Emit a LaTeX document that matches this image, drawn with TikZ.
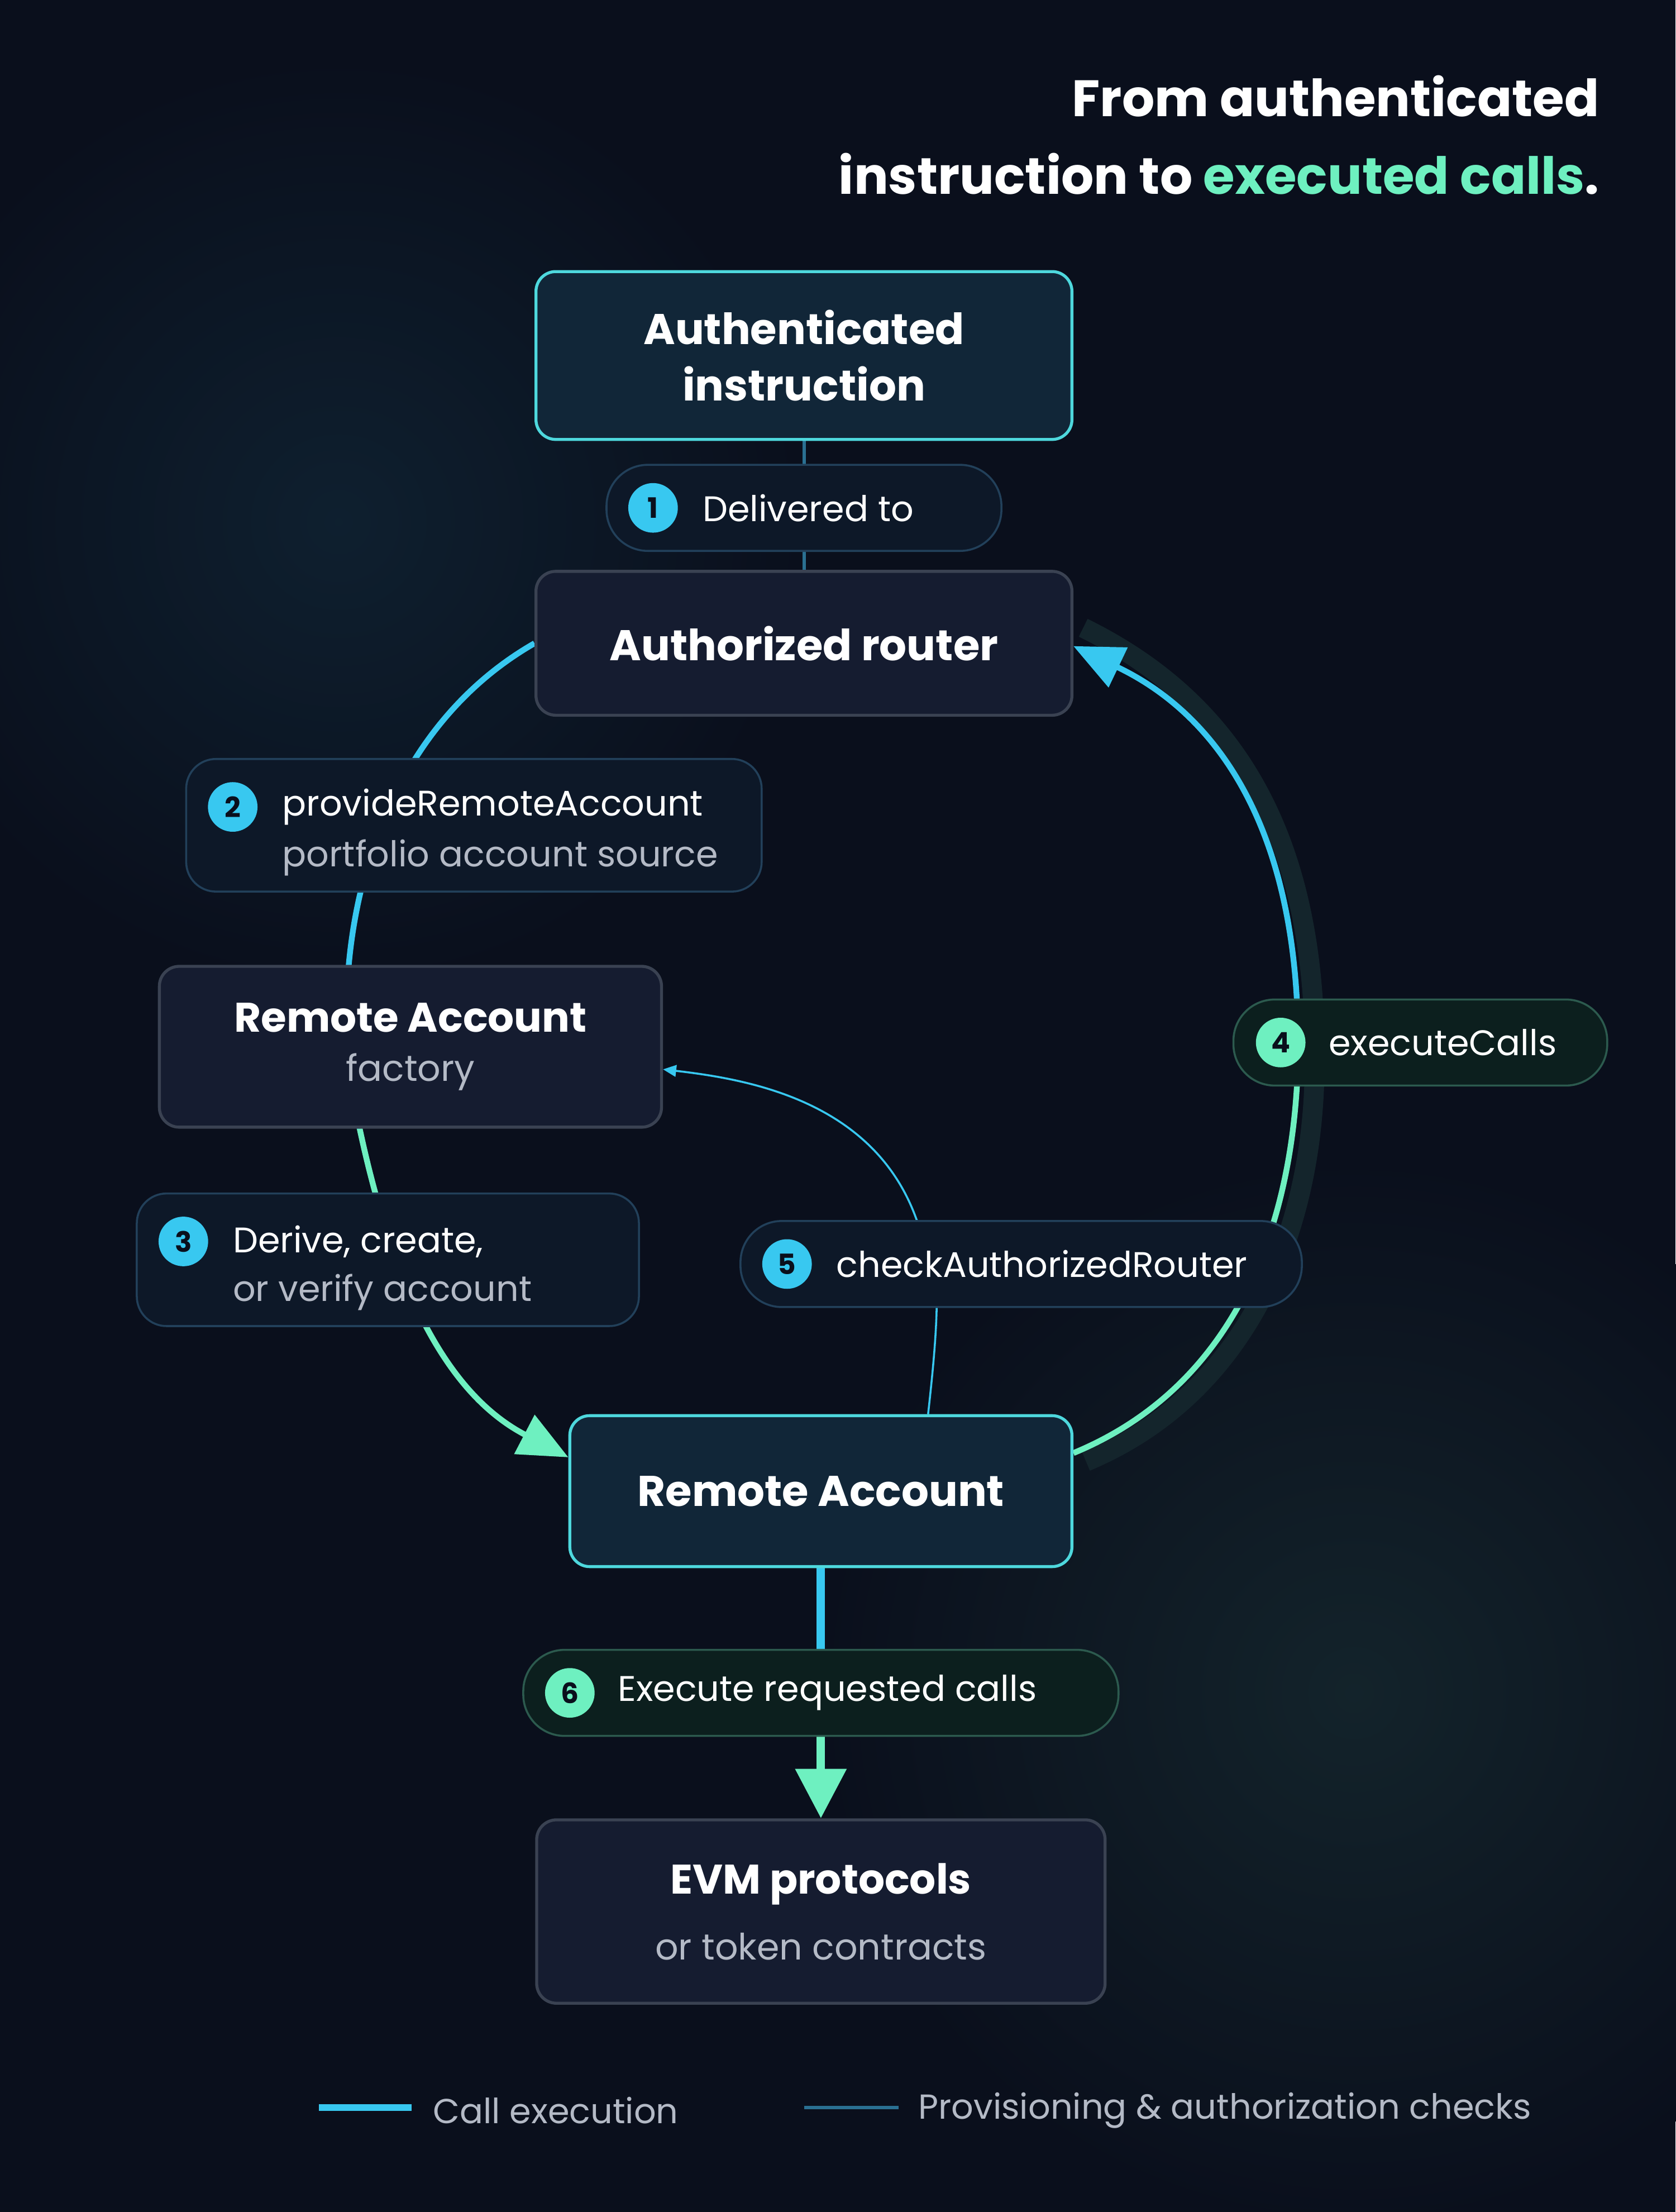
\documentclass[tikz,border=0pt]{standalone}
\usepackage{fontspec}
\setmainfont{Poppins}
\usetikzlibrary{arrows.meta,backgrounds}
\definecolor{bgnavy}{HTML}{0A0F1C}
\definecolor{callcyan}{HTML}{38C8F0}
\definecolor{callmint}{HTML}{6EF0C0}
\definecolor{provblue}{HTML}{2A7092}
\definecolor{boxdark}{HTML}{151C30}
\definecolor{boxteal}{HTML}{112638}
\definecolor{edgegray}{HTML}{3A4252}
\definecolor{pillfill}{HTML}{0D1828}
\definecolor{pilledge}{HTML}{22405A}
\definecolor{greenfill}{HTML}{0C1F1E}
\definecolor{greenedge}{HTML}{2C5A4E}
\definecolor{subgray}{HTML}{B4BAC6}
\tikzset{
  mainbox/.style={draw=edgegray, line width=1.8pt, fill=boxdark, rounded corners=12pt,
    text=white, align=center, inner sep=0pt},
  tealbox/.style={mainbox, draw=callcyan!60!callmint, fill=boxteal},
  labelpill/.style={draw=pilledge, line width=1.2pt, fill=pillfill, inner sep=0pt},
  greenpill/.style={labelpill, draw=greenedge, fill=greenfill},
  stepnum/.style={circle, fill=callcyan, text=bgnavy, font=\bfseries\fontsize{17}{17}\selectfont,
    minimum size=30pt, inner sep=0pt},
  pilltext/.style={text=white, anchor=west, font=\fontsize{21.5}{24}\selectfont},
  boxtitle/.style={font=\bfseries\fontsize{26}{34}\selectfont},
}
\begin{document}
\begin{tikzpicture}[x=0.3mm, y=-0.3mm]
  \useasboundingbox (0,0) rectangle (1188,1568);

  % title
  \node[anchor=east, text=white, font=\bfseries\fontsize{31}{36}\selectfont] (title1) at (1138,68) {From authenticated};
  \node[anchor=east, text=white, font=\bfseries\fontsize{31}{36}\selectfont] (title2) at (1138,123)
    {instruction to \textcolor{callmint}{executed calls}.};

  % boxes
  \node[tealbox, boxtitle, minimum width=114mm, minimum height=35.7mm] (instr) at (570,252)
    {Authenticated\\instruction};
  \node[mainbox, boxtitle, minimum width=114mm, minimum height=30.6mm] (router) at (570,456)
    {Authorized router};
  \node[mainbox, font=\fontsize{22}{30}\selectfont, minimum width=106.8mm, minimum height=34.2mm] (factory) at (291,742)
    {{\bfseries\fontsize{25}{30}\selectfont Remote Account}\\
     {\color{subgray}factory}};
  \node[tealbox, boxtitle, minimum width=106.8mm, minimum height=32.1mm] (remote) at (582,1057)
    {Remote Account};
  \node[mainbox, font=\fontsize{22}{40}\selectfont, minimum width=120.9mm, minimum height=39mm] (evm) at (582,1355)
    {{\bfseries\fontsize{25}{30}\selectfont EVM protocols}\\
     {\color{subgray}or token contracts}};

  % step pills
  \node[labelpill, rounded corners=25pt, minimum width=84mm, minimum height=18.3mm] (pill1) at (570,360) {};
  \node[stepnum] (num1) at (463,360) {1};
  \node[pilltext] at (494,360) {Delivered to};

  \node[labelpill, rounded corners=18pt, minimum width=122.4mm, minimum height=28.2mm] (pill2) at (336,585) {};
  \node[stepnum] (num2) at (165,572) {2};
  \node[pilltext] at (196,572) {provideRemoteAccount};
  \node[pilltext, text=subgray] at (196,608) {portfolio account source};

  \node[labelpill, rounded corners=18pt, minimum width=106.8mm, minimum height=28.2mm] (pill3) at (275,893) {};
  \node[stepnum] (num3) at (130,880) {3};
  \node[pilltext] at (161,880) {Derive, create,};
  \node[pilltext, text=subgray] at (161,916) {or verify account};

  \node[greenpill, rounded corners=25pt, minimum width=79.5mm, minimum height=18.3mm] (pill4) at (1007,739) {};
  \node[stepnum, fill=callmint] (num4) at (908,739) {4};
  \node[pilltext] at (938,739) {executeCalls};

  \node[labelpill, rounded corners=25pt, minimum width=119.4mm, minimum height=18.3mm] (pill5) at (724,896) {};
  \node[stepnum] (num5) at (558,896) {5};
  \node[pilltext] at (589,896) {checkAuthorizedRouter};

  \node[greenpill, rounded corners=25pt, minimum width=126.6mm, minimum height=18.3mm] (pill6) at (582,1200) {};
  \node[stepnum, fill=callmint] (num6) at (404,1200) {6};
  \node[pilltext] at (434,1200) {Execute requested calls};

  % connectors
  \begin{scope}[on background layer]
    \fill[bgnavy] (0,0) rectangle (1188,1568);
    \begin{scope}
      \clip (0,0) rectangle (1188,1568);
      \shade[inner color=callcyan!9!bgnavy, outer color=bgnavy] (240,370) circle (330);
      \shade[inner color=callmint!9!bgnavy, outer color=bgnavy] (960,1200) circle (380);
    \end{scope}
    \draw[provblue, line width=2pt] (instr.south) -- (router.north);
    % left arc
    \draw[callcyan, line width=3.5pt] (router.west) .. controls (250,530) and (230,700) .. (255,800);
    \draw[callmint, line width=3.5pt, -{Triangle[length=30pt,width=26pt]}]
      (255,800) .. controls (285,940) and (330,995) .. (remote.north west |- 0,1033);
    % right arc with shadow
    \draw[callmint!10!bgnavy, line width=12pt] (770,1036) .. controls (880,990) and (930,880) .. (932,760)
      .. controls (935,600) and (880,500) .. (768,445);
    \draw[callmint, line width=3.5pt] (remote.east |- 0,1030) .. controls (870,985) and (915,880) .. (920,760);
    \draw[callcyan, line width=3.5pt, -{Triangle[length=30pt,width=26pt]}]
      (920,760) .. controls (925,600) and (870,510) .. (router.east |- 0,458);
    % provisioning check
    \draw[callcyan, line width=1.2pt, -{Triangle[length=8pt,width=7pt]}]
      (remote.north -| 658,0) .. controls (665,940) and (670,880) .. (650,865)
      .. controls (620,780) and (530,765) .. (factory.east |- 0,758);
    % execution arrow
    \draw[callcyan, line width=5pt] (remote.south) -- (582,1170);
    \draw[callmint, line width=5pt, -{Triangle[length=30pt,width=30pt]}] (582,1230) -- (evm.north);
  \end{scope}

  % legend
  \coordinate (leg1a) at (226,1494);
  \coordinate (leg1b) at (292,1494);
  \draw[callcyan, line width=4pt] (leg1a) -- (leg1b);
  \node[pilltext, text=subgray, font=\fontsize{21}{24}\selectfont] (legtext1) at (303,1496) {Call execution};
  \coordinate (leg2a) at (570,1494);
  \coordinate (leg2b) at (637,1494);
  \draw[provblue, line width=2pt] (leg2a) -- (leg2b);
  \node[pilltext, text=subgray, font=\fontsize{21}{24}\selectfont] (legtext2) at (647,1496)
    {Provisioning \& authorization checks};
\end{tikzpicture}
\end{document}
